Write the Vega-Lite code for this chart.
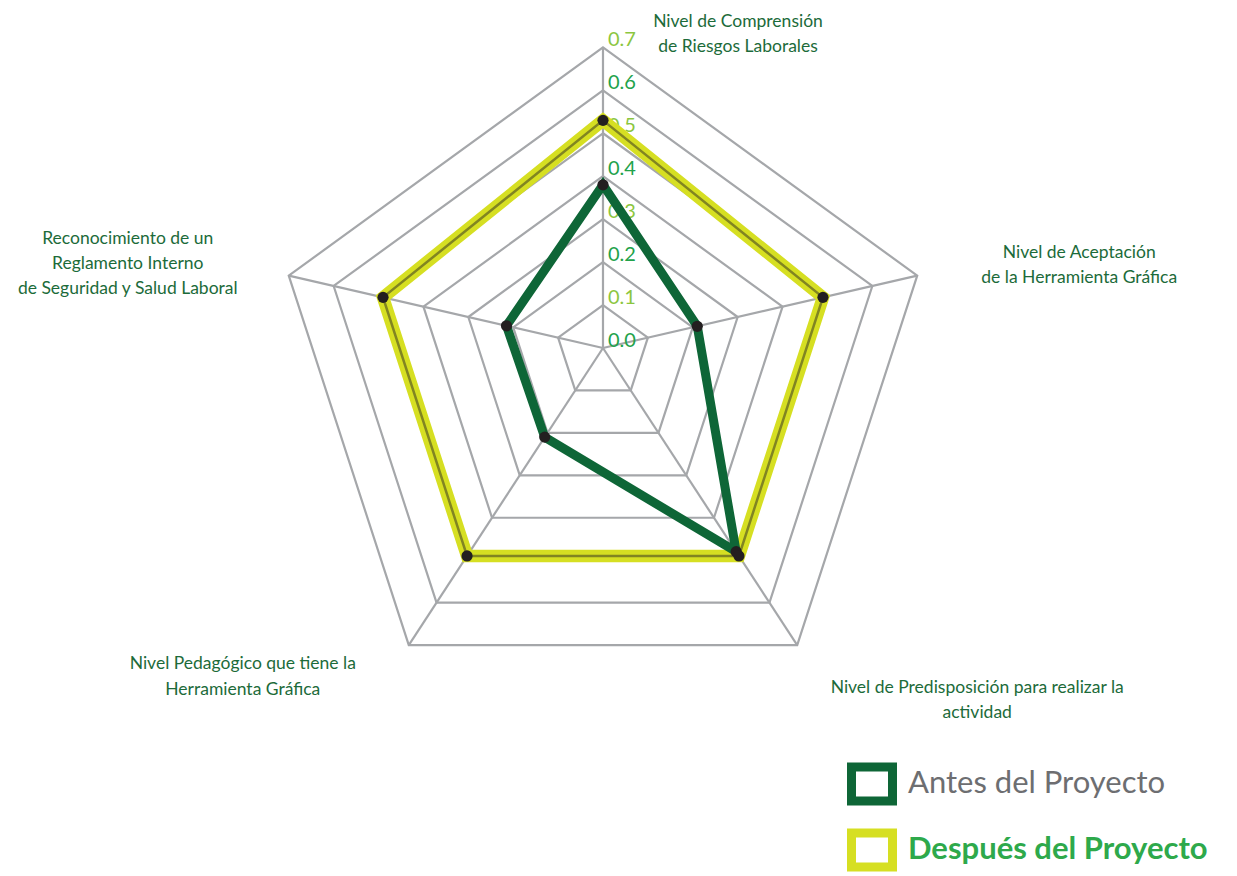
{
  "$schema": "https://vega.github.io/schema/vega-lite/v6.json",
  "width": 1237,
  "height": 876,
  "autosize": {"type": "none"},
  "padding": 0,
  "background": "white",
  "config": {
    "view": {"stroke": null},
    "text": {"font": "Lato"}
  },
  "datasets": {
    "series": [
      {"serie": "Antes del Proyecto", "k": 0, "v": 0.38},
      {"serie": "Antes del Proyecto", "k": 1, "v": 0.21},
      {"serie": "Antes del Proyecto", "k": 2, "v": 0.48},
      {"serie": "Antes del Proyecto", "k": 3, "v": 0.21},
      {"serie": "Antes del Proyecto", "k": 4, "v": 0.215},
      {"serie": "Después del Proyecto", "k": 0, "v": 0.53},
      {"serie": "Después del Proyecto", "k": 1, "v": 0.49},
      {"serie": "Después del Proyecto", "k": 2, "v": 0.49},
      {"serie": "Después del Proyecto", "k": 3, "v": 0.49},
      {"serie": "Después del Proyecto", "k": 4, "v": 0.49}
    ],
    "anillos": [
      {"r": 0.1, "k": [0, 1, 2, 3, 4]},
      {"r": 0.2, "k": [0, 1, 2, 3, 4]},
      {"r": 0.3, "k": [0, 1, 2, 3, 4]},
      {"r": 0.4, "k": [0, 1, 2, 3, 4]},
      {"r": 0.5, "k": [0, 1, 2, 3, 4]},
      {"r": 0.6, "k": [0, 1, 2, 3, 4]},
      {"r": 0.7, "k": [0, 1, 2, 3, 4]}
    ],
    "niveles": [
      {"r": 0.0, "t": "0.0"},
      {"r": 0.1, "t": "0.1"},
      {"r": 0.2, "t": "0.2"},
      {"r": 0.3, "t": "0.3"},
      {"r": 0.4, "t": "0.4"},
      {"r": 0.5, "t": "0.5"},
      {"r": 0.6, "t": "0.6"},
      {"r": 0.7, "t": "0.7"}
    ],
    "ejes": [
      {"k": 0, "eje": ["Nivel  de Comprensión", "de Riesgos Laborales"]},
      {"k": 1, "eje": ["Nivel de Aceptación", "de la Herramienta Gráfica"]},
      {"k": 2, "eje": ["Nivel de Predisposición para realizar la", "actividad"]},
      {"k": 3, "eje": ["Nivel Pedagógico  que tiene la", "Herramienta Gráfica"]},
      {"k": 4, "eje": ["Reconocimiento de un", "Reglamento Interno", "de Seguridad y Salud Laboral"]}
    ]
  },
  "encoding": {
    "x": {"field": "px", "type": "quantitative", "scale": {"domain": [-1.2775, 1.3432], "nice": false, "zero": false}, "axis": null},
    "y": {"field": "py", "type": "quantitative", "scale": {"domain": [-1.1186, 0.7373], "nice": false, "zero": false}, "axis": null}
  },
  "layer": [
    {
      "data": {"name": "anillos"},
      "transform": [
        {"flatten": ["k"]},
        {"calculate": "PI/2 - datum.k*2*PI/5", "as": "a"},
        {"calculate": "datum.r*cos(datum.a)", "as": "px"},
        {"calculate": "datum.r*(sin(datum.a) - 0.09)", "as": "py"}
      ],
      "mark": {"type": "line", "interpolate": "linear-closed", "stroke": "#a5a7aa", "strokeWidth": 2.2},
      "encoding": {
        "detail": {"field": "r", "type": "nominal"},
        "order": {"field": "k", "type": "quantitative"}
      }
    },
    {
      "data": {"name": "ejes"},
      "transform": [
        {"calculate": "PI/2 - datum.k*2*PI/5", "as": "a"},
        {"calculate": "0.7*cos(datum.a)", "as": "px"},
        {"calculate": "0.7*(sin(datum.a) - 0.09)", "as": "py"}
      ],
      "mark": {"type": "rule", "stroke": "#a5a7aa", "strokeWidth": 2.2},
      "encoding": {
        "x": {"datum": 0},
        "y": {"datum": 0},
        "x2": {"field": "px"},
        "y2": {"field": "py"}
      }
    },
    {
      "data": {"name": "niveles"},
      "transform": [
        {"calculate": "0", "as": "px"},
        {"calculate": "datum.r*0.91", "as": "py"}
      ],
      "mark": {"type": "text", "align": "left", "baseline": "middle", "dx": 5, "dy": -7, "fontSize": 20},
      "encoding": {
        "text": {"field": "t"},
        "color": {"condition": {"test": "round(datum.r*10) % 2 == 1", "value": "#8cc63f"}, "value": "#22a24a"}
      }
    },
    {
      "data": {"name": "series"},
      "transform": [
        {"filter": "datum.serie == 'Después del Proyecto'"},
        {"calculate": "PI/2 - datum.k*2*PI/5", "as": "a"},
        {"calculate": "datum.v*cos(datum.a)", "as": "px"},
        {"calculate": "datum.v*(sin(datum.a) - 0.09)", "as": "py"}
      ],
      "mark": {"type": "line", "interpolate": "linear-closed", "strokeWidth": 12.5, "strokeJoin": "miter"},
      "encoding": {
        "stroke": {
          "field": "serie", "type": "nominal",
          "scale": {"domain": ["Antes del Proyecto", "Después del Proyecto"], "range": ["#0e6637", "#d6df22"]},
          "legend": {
            "orient": "none", "legendX": 847, "legendY": 759, "padding": 0, "title": null,
            "symbolType": "M-1,-0.83H1V0.83H-1Z", "symbolSize": 1681, "symbolStrokeWidth": 9,
            "symbolFillColor": "white", "symbolOpacity": 1,
            "labelFont": "Lato", "labelFontSize": 31, "labelOffset": 11, "labelLimit": 500,
            "labelColor": {"expr": "datum.value == 'Antes del Proyecto' ? '#6d6e71' : '#2ea94b'"},
            "labelFontWeight": {"expr": "datum.value == 'Antes del Proyecto' ? 400 : 700"},
            "rowPadding": -6
          }
        },
        "order": {"field": "k", "type": "quantitative"}
      }
    },
    {
      "data": {"name": "series"},
      "transform": [
        {"filter": "datum.serie == 'Después del Proyecto'"},
        {"calculate": "PI/2 - datum.k*2*PI/5", "as": "a"},
        {"calculate": "datum.v*cos(datum.a)", "as": "px"},
        {"calculate": "datum.v*(sin(datum.a) - 0.09)", "as": "py"}
      ],
      "mark": {"type": "line", "interpolate": "linear-closed", "strokeWidth": 2.5, "stroke": "#6b6e22", "opacity": 0.8},
      "encoding": {"order": {"field": "k", "type": "quantitative"}}
    },
    {
      "data": {"name": "series"},
      "transform": [
        {"filter": "datum.serie == 'Antes del Proyecto'"},
        {"calculate": "PI/2 - datum.k*2*PI/5", "as": "a"},
        {"calculate": "datum.v*cos(datum.a)", "as": "px"},
        {"calculate": "datum.v*(sin(datum.a) - 0.09)", "as": "py"}
      ],
      "mark": {"type": "line", "interpolate": "linear-closed", "strokeWidth": 9, "strokeJoin": "miter"},
      "encoding": {
        "stroke": {"field": "serie", "type": "nominal"},
        "order": {"field": "k", "type": "quantitative"}
      }
    },
    {
      "data": {"name": "series"},
      "transform": [
        {"calculate": "PI/2 - datum.k*2*PI/5", "as": "a"},
        {"calculate": "datum.v*cos(datum.a)", "as": "px"},
        {"calculate": "datum.v*(sin(datum.a) - 0.09)", "as": "py"}
      ],
      "mark": {"type": "circle", "size": 125, "color": "#231f20", "opacity": 1}
    },
    {
      "data": {"name": "ejes"},
      "transform": [
        {"filter": "datum.k == 0"},
        {"calculate": "0", "as": "px"},
        {"calculate": "0.7*0.91", "as": "py"}
      ],
      "mark": {"type": "text", "align": "center", "baseline": "middle", "dx": 135, "dy": -25, "fontSize": 17.5, "lineHeight": 25, "color": "#1c6b3a"},
      "encoding": {"text": {"field": "eje"}}
    },
    {
      "data": {"name": "ejes"},
      "transform": [
        {"filter": "datum.k == 1"},
        {"calculate": "PI/2 - datum.k*2*PI/5", "as": "a"},
        {"calculate": "0.7*cos(datum.a)", "as": "px"},
        {"calculate": "0.7*(sin(datum.a) - 0.09)", "as": "py"}
      ],
      "mark": {"type": "text", "align": "center", "baseline": "middle", "dx": 162, "dy": -23, "fontSize": 17.5, "lineHeight": 25, "color": "#1c6b3a"},
      "encoding": {"text": {"field": "eje"}}
    },
    {
      "data": {"name": "ejes"},
      "transform": [
        {"filter": "datum.k == 2"},
        {"calculate": "PI/2 - datum.k*2*PI/5", "as": "a"},
        {"calculate": "0.7*cos(datum.a)", "as": "px"},
        {"calculate": "0.7*(sin(datum.a) - 0.09)", "as": "py"}
      ],
      "mark": {"type": "text", "align": "center", "baseline": "middle", "dx": 180, "dy": 43, "fontSize": 17.5, "lineHeight": 25, "color": "#1c6b3a"},
      "encoding": {"text": {"field": "eje"}}
    },
    {
      "data": {"name": "ejes"},
      "transform": [
        {"filter": "datum.k == 3"},
        {"calculate": "PI/2 - datum.k*2*PI/5", "as": "a"},
        {"calculate": "0.7*cos(datum.a)", "as": "px"},
        {"calculate": "0.7*(sin(datum.a) - 0.09)", "as": "py"}
      ],
      "mark": {"type": "text", "align": "center", "baseline": "middle", "dx": -166, "dy": 19, "fontSize": 17.5, "lineHeight": 26, "color": "#1c6b3a"},
      "encoding": {"text": {"field": "eje"}}
    },
    {
      "data": {"name": "ejes"},
      "transform": [
        {"filter": "datum.k == 4"},
        {"calculate": "PI/2 - datum.k*2*PI/5", "as": "a"},
        {"calculate": "0.7*cos(datum.a)", "as": "px"},
        {"calculate": "0.7*(sin(datum.a) - 0.09)", "as": "py"}
      ],
      "mark": {"type": "text", "align": "center", "baseline": "middle", "dx": -161, "dy": -37, "fontSize": 17.5, "lineHeight": 25, "color": "#1c6b3a"},
      "encoding": {"text": {"field": "eje"}}
    }
  ]
}
